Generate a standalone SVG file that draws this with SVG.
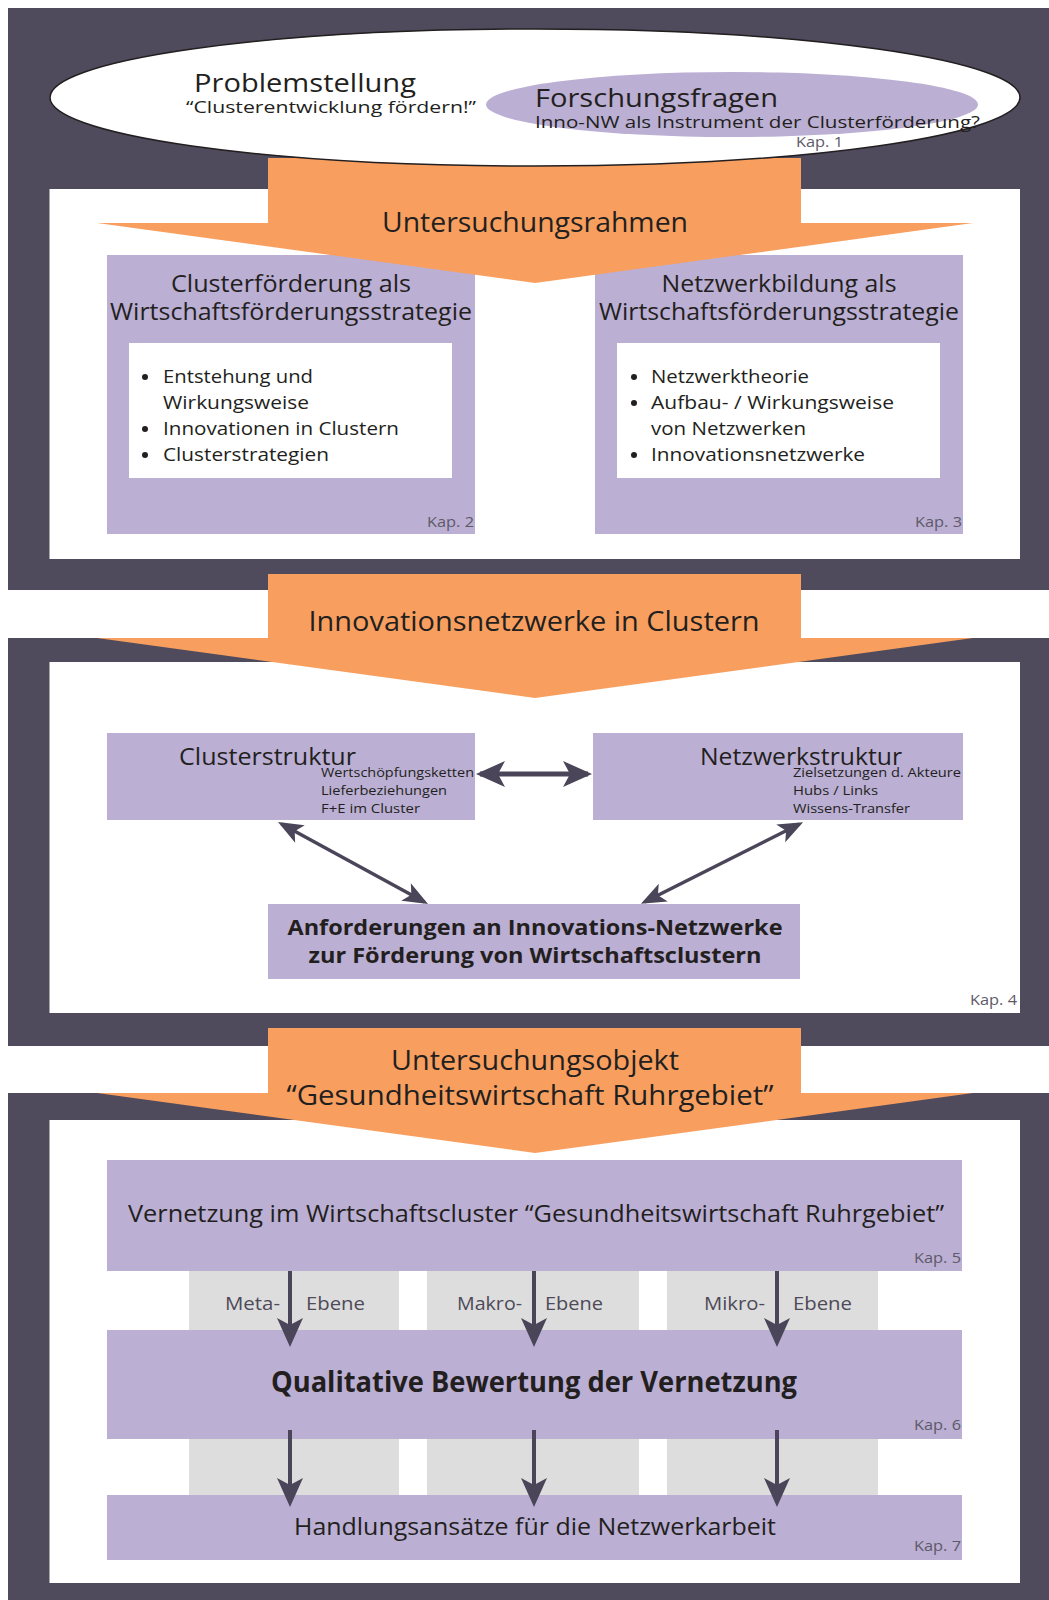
<svg xmlns="http://www.w3.org/2000/svg" width="1049" height="1600" viewBox="0 0 1049 1600">
<style>
text{font-family:"Open Sans","Noto Sans","DejaVu Sans",sans-serif;fill:#231f20}
.dark{fill:#4f4a5c}
.white{fill:#ffffff}
.purple{fill:#bbafd4}
.orange{fill:#f89f5f}
.gray{fill:#dddddd}
.kap{font-size:14px;fill:#5e5968;text-anchor:end}
.mid{text-anchor:middle}
.b{font-weight:bold}
.lvl{font-size:18px;fill:#4e4a58}
.sub{font-size:13px}
.conn{stroke:#4a4558;fill:none}
</style>
<defs>
<marker id="ahBig" viewBox="-30 -15 36 30" refX="0" refY="0" markerWidth="36" markerHeight="30" orient="auto-start-reverse" markerUnits="userSpaceOnUse">
<path d="M4,0 L-25,-13 L-18,0 L-25,13 Z" fill="#4a4558"/>
</marker>
<marker id="ahSmall" viewBox="-26 -12 32 24" refX="0" refY="0" markerWidth="32" markerHeight="24" orient="auto-start-reverse" markerUnits="userSpaceOnUse">
<path d="M4,0 L-21,-10 L-15,0 L-21,10 Z" fill="#4a4558"/>
</marker>
</defs>

<g id="frames">
<rect class="dark" x="8" y="8" width="1041" height="582"/>
<rect class="white" x="49.5" y="189" width="970.5" height="370"/>
<rect class="dark" x="8" y="638" width="1041" height="408"/>
<rect class="white" x="49.5" y="662" width="970.5" height="351"/>
<rect class="dark" x="8" y="1093" width="1041" height="507"/>
<rect class="white" x="49.5" y="1120" width="970.5" height="463"/>
</g>

<g id="levels">
<rect class="gray" x="189" y="1271" width="210" height="224"/>
<rect class="gray" x="427" y="1271" width="212" height="224"/>
<rect class="gray" x="667" y="1271" width="211" height="224"/>
</g>

<g id="clusterfoerderung">
<rect class="purple" x="107" y="255" width="368" height="279"/>
<rect class="white" x="129" y="343" width="323" height="135"/>
</g>
<g id="netzwerkbildung">
<rect class="purple" x="595" y="255" width="368" height="279"/>
<rect class="white" x="617" y="343" width="323" height="135"/>
</g>
<g id="clusterstruktur"><rect class="purple" x="107" y="733" width="368" height="87"/></g>
<g id="netzwerkstruktur"><rect class="purple" x="593" y="733" width="370" height="87"/></g>
<g id="anforderungen"><rect class="purple" x="268" y="904" width="532" height="75"/></g>
<g id="vernetzung"><rect class="purple" x="107" y="1160" width="855" height="111"/></g>
<g id="bewertung"><rect class="purple" x="107" y="1330" width="855" height="109"/></g>
<g id="handlung"><rect class="purple" x="107" y="1495" width="855" height="65"/></g>

<g id="arrow-untersuchungsrahmen"><polygon class="orange" points="268,158 801,158 801,223 973,223 535,283 97,223 268,223"/></g>
<g id="arrow-innovationsnetzwerke"><polygon class="orange" points="268,574 801,574 801,638 973,638 535,698 97,638 268,638"/></g>
<g id="arrow-untersuchungsobjekt"><polygon class="orange" points="268,1028 801,1028 801,1093 973,1093 535,1153 97,1093 268,1093"/></g>

<g id="problemstellung">
<ellipse cx="535" cy="97.5" rx="485" ry="68.5" fill="#ffffff" stroke="#231f20" stroke-width="1.5"/>
</g>
<g id="forschungsfragen">
<ellipse cx="732" cy="104.5" rx="246" ry="32.5" class="purple"/>
</g>

<g id="connectors">
<line class="conn" x1="480" y1="774" x2="588" y2="774" stroke-width="5" marker-start="url(#ahBig)" marker-end="url(#ahBig)"/>
<line class="conn" x1="281.5" y1="824" x2="424.5" y2="902" stroke-width="3.5" marker-start="url(#ahSmall)" marker-end="url(#ahSmall)"/>
<line class="conn" x1="799.5" y1="824" x2="644.5" y2="902" stroke-width="3.5" marker-start="url(#ahSmall)" marker-end="url(#ahSmall)"/>
<line class="conn" x1="290" y1="1271" x2="290" y2="1343" stroke-width="4" marker-end="url(#ahBig)"/>
<line class="conn" x1="534" y1="1271" x2="534" y2="1343" stroke-width="4" marker-end="url(#ahBig)"/>
<line class="conn" x1="777" y1="1271" x2="777" y2="1343" stroke-width="4" marker-end="url(#ahBig)"/>
<line class="conn" x1="290" y1="1430" x2="290" y2="1503" stroke-width="4" marker-end="url(#ahBig)"/>
<line class="conn" x1="534" y1="1430" x2="534" y2="1503" stroke-width="4" marker-end="url(#ahBig)"/>
<line class="conn" x1="777" y1="1430" x2="777" y2="1503" stroke-width="4" marker-end="url(#ahBig)"/>
</g>

<g id="texts">
<text x="194" y="92" font-size="26" textLength="222" lengthAdjust="spacingAndGlyphs">Problemstellung</text>
<text x="186" y="113" font-size="17" textLength="290" lengthAdjust="spacingAndGlyphs">“Clusterentwicklung fördern!”</text>
<text x="535" y="107" font-size="26" textLength="243" lengthAdjust="spacingAndGlyphs">Forschungsfragen</text>
<text x="535" y="128" font-size="17" textLength="445" lengthAdjust="spacingAndGlyphs">Inno-NW als Instrument der Clusterförderung?</text>
<text x="843" y="147" class="kap" textLength="47" lengthAdjust="spacingAndGlyphs">Kap. 1</text>

<text x="535" y="232" class="mid" font-size="28" textLength="306" lengthAdjust="spacingAndGlyphs">Untersuchungsrahmen</text>

<text x="291" y="292" class="mid" font-size="24" textLength="240" lengthAdjust="spacingAndGlyphs">Clusterförderung als</text>
<text x="291" y="320" class="mid" font-size="24" textLength="362" lengthAdjust="spacingAndGlyphs">Wirtschaftsförderungsstrategie</text>
<circle cx="145" cy="377" r="3" fill="#231f20"/>
<text x="163" y="383" font-size="19" textLength="150" lengthAdjust="spacingAndGlyphs">Entstehung und</text>
<text x="163" y="409" font-size="19" textLength="146" lengthAdjust="spacingAndGlyphs">Wirkungsweise</text>
<circle cx="145" cy="429" r="3" fill="#231f20"/>
<text x="163" y="435" font-size="19" textLength="236" lengthAdjust="spacingAndGlyphs">Innovationen in Clustern</text>
<circle cx="145" cy="455" r="3" fill="#231f20"/>
<text x="163" y="461" font-size="19" textLength="166" lengthAdjust="spacingAndGlyphs">Clusterstrategien</text>
<text x="474" y="527" class="kap" textLength="47" lengthAdjust="spacingAndGlyphs">Kap. 2</text>

<text x="779" y="292" class="mid" font-size="24" textLength="235" lengthAdjust="spacingAndGlyphs">Netzwerkbildung als</text>
<text x="779" y="320" class="mid" font-size="24" textLength="360" lengthAdjust="spacingAndGlyphs">Wirtschaftsförderungsstrategie</text>
<circle cx="634" cy="377" r="3" fill="#231f20"/>
<text x="651" y="383" font-size="19" textLength="158" lengthAdjust="spacingAndGlyphs">Netzwerktheorie</text>
<circle cx="634" cy="403" r="3" fill="#231f20"/>
<text x="651" y="409" font-size="19" textLength="243" lengthAdjust="spacingAndGlyphs">Aufbau- / Wirkungsweise</text>
<text x="651" y="435" font-size="19" textLength="155" lengthAdjust="spacingAndGlyphs">von Netzwerken</text>
<circle cx="634" cy="455" r="3" fill="#231f20"/>
<text x="651" y="461" font-size="19" textLength="214" lengthAdjust="spacingAndGlyphs">Innovationsnetzwerke</text>
<text x="962" y="527" class="kap" textLength="47" lengthAdjust="spacingAndGlyphs">Kap. 3</text>

<text x="534" y="631" class="mid" font-size="28" textLength="451" lengthAdjust="spacingAndGlyphs">Innovationsnetzwerke in Clustern</text>

<text x="179" y="765" font-size="24" textLength="177" lengthAdjust="spacingAndGlyphs">Clusterstruktur</text>
<text x="321" y="777" class="sub" textLength="153" lengthAdjust="spacingAndGlyphs">Wertschöpfungsketten</text>
<text x="321" y="795" class="sub" textLength="126" lengthAdjust="spacingAndGlyphs">Lieferbeziehungen</text>
<text x="321" y="813" class="sub" textLength="99" lengthAdjust="spacingAndGlyphs">F+E  im Cluster</text>

<text x="700" y="765" font-size="24" textLength="202" lengthAdjust="spacingAndGlyphs">Netzwerkstruktur</text>
<text x="793" y="777" class="sub" textLength="168" lengthAdjust="spacingAndGlyphs">Zielsetzungen d. Akteure</text>
<text x="793" y="795" class="sub" textLength="85" lengthAdjust="spacingAndGlyphs">Hubs / Links</text>
<text x="793" y="813" class="sub" textLength="117" lengthAdjust="spacingAndGlyphs">Wissens-Transfer</text>

<text x="535" y="935" class="mid b" font-size="22" textLength="495" lengthAdjust="spacingAndGlyphs">Anforderungen an Innovations-Netzwerke</text>
<text x="535" y="963" class="mid b" font-size="22" textLength="453" lengthAdjust="spacingAndGlyphs">zur Förderung von Wirtschaftsclustern</text>
<text x="1017" y="1005" class="kap" textLength="47" lengthAdjust="spacingAndGlyphs">Kap. 4</text>

<text x="535" y="1070" class="mid" font-size="28" textLength="288" lengthAdjust="spacingAndGlyphs">Untersuchungsobjekt</text>
<text x="530" y="1105" class="mid" font-size="28" textLength="487" lengthAdjust="spacingAndGlyphs">“Gesundheitswirtschaft Ruhrgebiet”</text>

<text x="128" y="1222" font-size="23" textLength="816" lengthAdjust="spacingAndGlyphs">Vernetzung im Wirtschaftscluster “Gesundheitswirtschaft Ruhrgebiet”</text>
<text x="961" y="1263" class="kap" textLength="47" lengthAdjust="spacingAndGlyphs">Kap. 5</text>

<text x="225" y="1310" class="lvl" textLength="55" lengthAdjust="spacingAndGlyphs">Meta-</text>
<text x="306" y="1310" class="lvl" textLength="59" lengthAdjust="spacingAndGlyphs">Ebene</text>
<text x="457" y="1310" class="lvl" textLength="65" lengthAdjust="spacingAndGlyphs">Makro-</text>
<text x="545" y="1310" class="lvl" textLength="58" lengthAdjust="spacingAndGlyphs">Ebene</text>
<text x="704" y="1310" class="lvl" textLength="61" lengthAdjust="spacingAndGlyphs">Mikro-</text>
<text x="793" y="1310" class="lvl" textLength="59" lengthAdjust="spacingAndGlyphs">Ebene</text>

<text x="534" y="1392" class="mid b" font-size="28" textLength="526" lengthAdjust="spacingAndGlyphs">Qualitative Bewertung der Vernetzung</text>
<text x="961" y="1430" class="kap" textLength="47" lengthAdjust="spacingAndGlyphs">Kap. 6</text>

<text x="535" y="1535" class="mid" font-size="24" textLength="482" lengthAdjust="spacingAndGlyphs">Handlungsansätze für die Netzwerkarbeit</text>
<text x="961" y="1551" class="kap" textLength="47" lengthAdjust="spacingAndGlyphs">Kap. 7</text>
</g>
</svg>
